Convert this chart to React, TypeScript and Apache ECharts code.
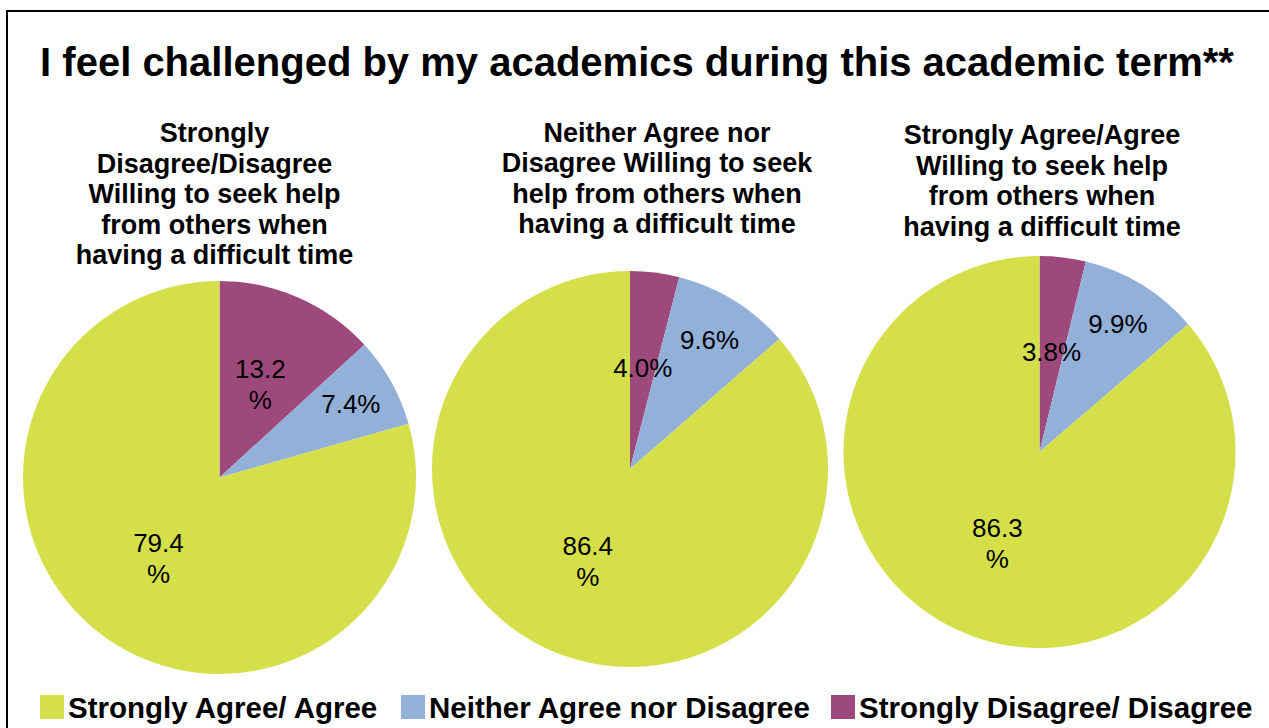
import React, { useEffect, useRef } from "react";
import * as echarts from "echarts";

const categories = [
  "Strongly Disagree/ Disagree",
  "Neither Agree nor Disagree",
  "Strongly Agree/ Agree",
];
const legendOrder = [
  "Strongly Agree/ Agree",
  "Neither Agree nor Disagree",
  "Strongly Disagree/ Disagree",
];
const sliceColors = ["#9E497C", "#92B0D8", "#D4DF4A"];

const mainTitle = "I feel challenged by my academics during this academic term**";
const pieTitles = [
  "Strongly\nDisagree/Disagree\nWilling to seek help\nfrom others when\nhaving a difficult time",
  "Neither Agree nor\nDisagree Willing to seek\nhelp from others when\nhaving a difficult time",
  "Strongly Agree/Agree\nWilling to seek help\nfrom others when\nhaving a difficult time",
];

// values per pie, in category order (disagree, neither, agree)
const pieDisagree = [13.2, 7.4, 79.4];
const pieNeither = [4.0, 9.6, 86.4];
const pieAgree = [3.8, 9.9, 86.3];
const pieValues = [pieDisagree, pieNeither, pieAgree];
// whether each label wraps its "%" onto a second line
const labelWrap = [
  [true, false, true],
  [false, false, true],
  [false, false, true],
];

const FONT = "'Liberation Sans', Arial, Helvetica, sans-serif";

export default function App() {
  const ref = useRef<HTMLDivElement>(null);
  useEffect(() => {
    if (!ref.current) return;
    const chart = echarts.init(ref.current, null, { renderer: "svg" });

    const centers = [
      [219.5, 477.5],
      [630, 469],
      [1039.5, 452],
    ];
    const radii = [196.5, 198, 196];
    const titleCenters = [
      [214.5, 194],
      [657, 178.5],
      [1042, 181],
    ];
    const legendLefts = [40, 401, 831];

    const series: any[] = [];
    const labelStyle = {
      color: "#000",
      fontFamily: FONT,
      fontSize: 26,
      lineHeight: 31,
    };
    pieValues.forEach((vals, p) => {
      const fmt = (i: number) =>
        vals[i].toFixed(1) + (labelWrap[p][i] ? "\n%" : "%");
      series.push({
        type: "pie",
        center: centers[p],
        radius: [0, radii[p]],
        startAngle: 90,
        clockwise: true,
        silent: true,
        avoidLabelOverlap: false,
        labelLine: { show: false },
        itemStyle: { borderWidth: 0 },
        data: vals.map((v, i) => ({
          name: categories[i],
          value: v,
          itemStyle: { color: sliceColors[i] },
          label: {
            show: i !== 1,
            position: "inside",
            formatter: () => fmt(i),
            ...labelStyle,
          },
        })),
      });
    });
    // label rings placing the middle slice's label further out
    pieValues.forEach((vals, p) => {
      series.push({
        type: "pie",
        center: centers[p],
        radius: [radii[p] / 2, radii[p]],
        startAngle: 90,
        clockwise: true,
        silent: true,
        avoidLabelOverlap: false,
        labelLine: { show: false },
        z: 5,
        data: vals.map((v, i) => ({
          name: categories[i],
          value: v,
          itemStyle: { color: "rgba(0,0,0,0)", borderWidth: 0 },
          label: {
            show: i === 1,
            position: "inside",
            formatter: () => vals[i].toFixed(1) + "%",
            ...labelStyle,
          },
        })),
      });
    });

    const graphics: any[] = [
      {
        type: "polyline",
        silent: true,
        shape: {
          points: [
            [7, 760],
            [7, 11],
            [1300, 11],
          ],
        },
        style: { stroke: "#000", lineWidth: 2, fill: "none" },
      },
      {
        type: "text",
        x: 637,
        y: 62,
        style: {
          text: mainTitle,
          fontFamily: FONT,
          fontSize: 40,
          fontWeight: "bold",
          fill: "#000",
          align: "center",
          verticalAlign: "middle",
        },
      },
      ...pieTitles.map((t, i) => ({
        type: "text",
        x: titleCenters[i][0],
        y: titleCenters[i][1],
        style: {
          text: t,
          fontFamily: FONT,
          fontSize: 27,
          fontWeight: "bold",
          lineHeight: 30.5,
          fill: "#000",
          align: "center",
          verticalAlign: "middle",
        },
      })),
    ];

    const legends = legendOrder.map((name, i) => ({
      data: [name],
      left: legendLefts[i],
      top: 692,
      padding: 0,
      icon: "rect",
      itemWidth: 24,
      itemHeight: 24,
      selectedMode: false,
      textStyle: {
        fontFamily: FONT,
        fontSize: 29.5,
        fontWeight: "bold",
        color: "#000",
        padding: [0, 0, 0, -1],
      },
    }));

    chart.setOption({
      animation: false,
      backgroundColor: "#fff",
      legend: legends,
      graphic: graphics,
      series,
    });
    return () => chart.dispose();
  }, []);
  return (
    <div
      ref={ref}
      style={{ position: "fixed", left: 0, top: 0, width: 1269, height: 728 }}
    />
  );
}
